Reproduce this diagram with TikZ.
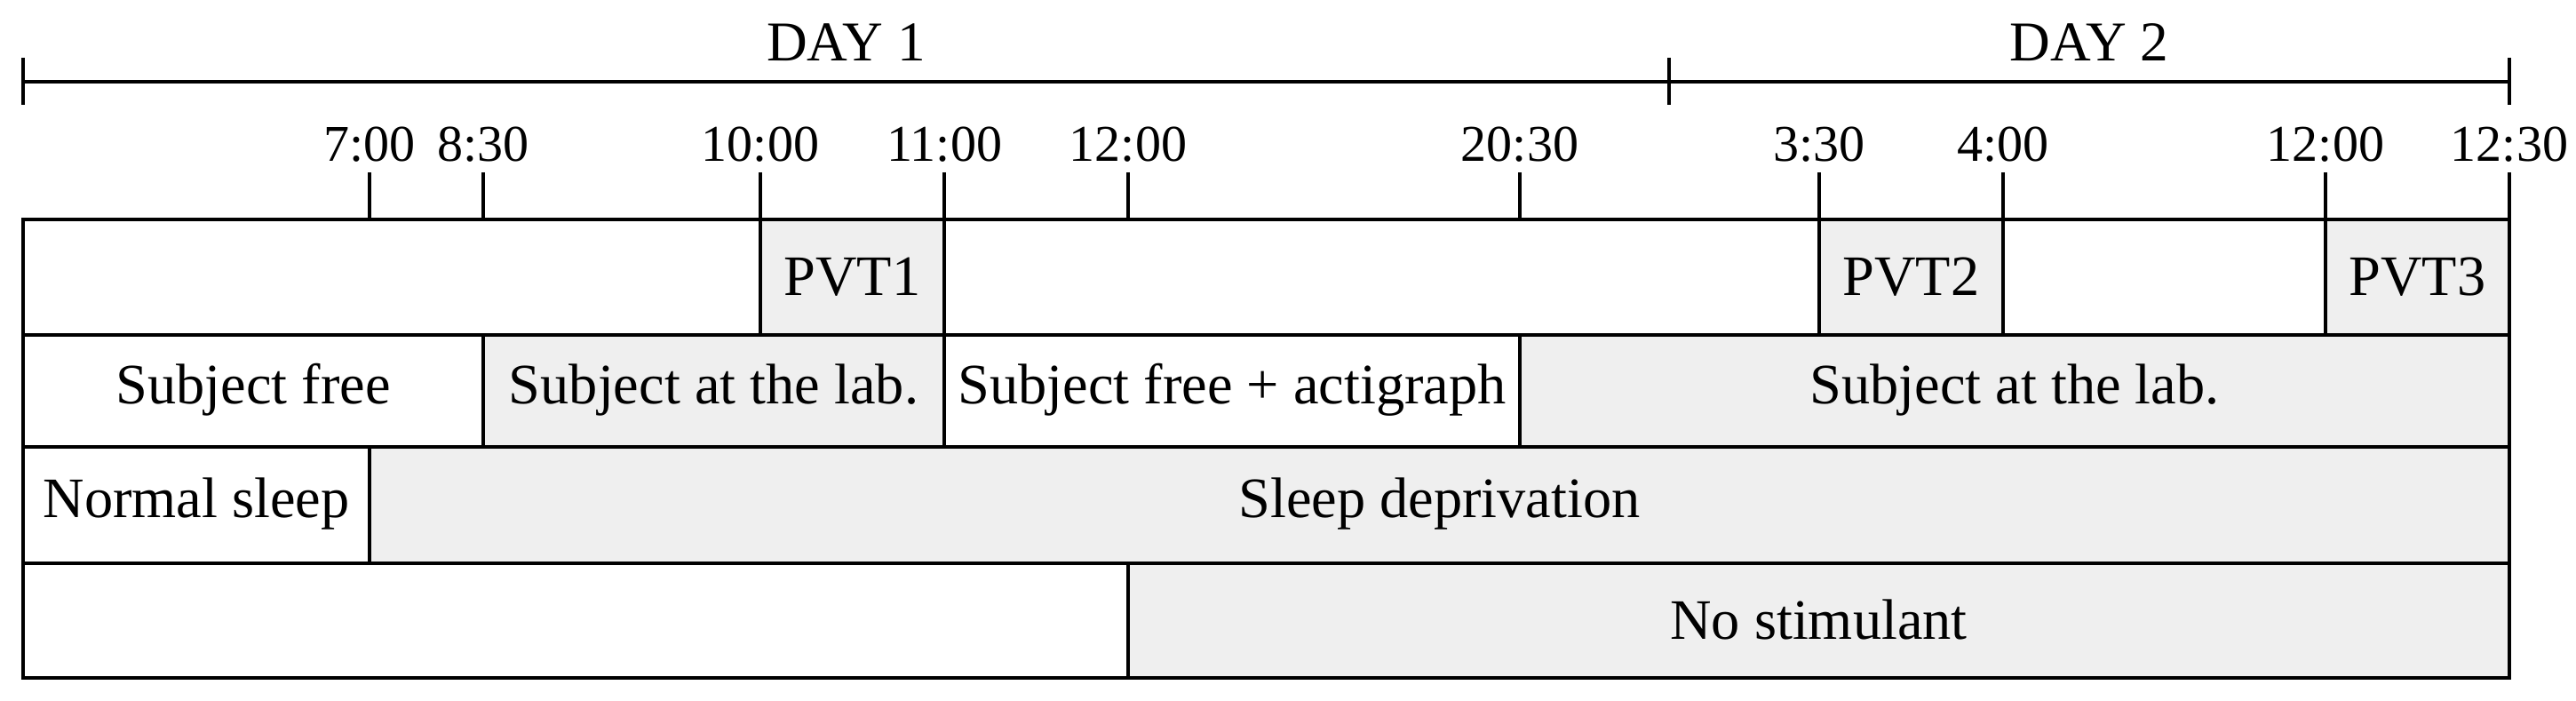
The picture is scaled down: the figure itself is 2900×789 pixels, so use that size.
\documentclass[tikz,border=0pt]{standalone}
\usepackage{fontspec}
\setmainfont{Liberation Serif}
\definecolor{cellgray}{HTML}{EFEFEF}
\begin{document}
\begin{tikzpicture}[x=0.01cm,y=-0.01cm,
  wbox/.style={draw=black,line width=1.2pt,fill=white},
  gbox/.style={draw=black,line width=1.2pt,fill=cellgray},
  tickline/.style={line width=1pt},
  dayline/.style={line width=1.2pt},
  daytxt/.style={font=\fontsize{18}{22}\selectfont,anchor=base,inner sep=0pt},
  timetxt/.style={font=\fontsize{16.5}{19}\selectfont,anchor=base,inner sep=0pt},
  celltxt/.style={font=\fontsize{18.3}{22}\selectfont,anchor=base,inner sep=0pt}]
\useasboundingbox (0,0) rectangle (2900,789);

% day bracket
\coordinate (d0) at (26,91.7);
\coordinate (d1) at (1879,91.7);
\coordinate (d2) at (2825,91.7);
\draw[dayline] (d0) -- (d2);
\draw[dayline] (26,65) -- (26,118);
\draw[dayline] (1879,65) -- (1879,118);
\draw[dayline] (2825,65) -- (2825,118);
\node[daytxt] (day1) at (952.5,69) {DAY 1};
\node[daytxt] (day2) at (2352,69) {DAY 2};

% row 1
\draw[wbox] (26,247) rectangle (856,377);
\draw[gbox] (856,247) rectangle (1063,377);
\draw[wbox] (1063,247) rectangle (2048,377);
\draw[gbox] (2048,247) rectangle (2255,377);
\draw[wbox] (2255,247) rectangle (2618,377);
\draw[gbox] (2618,247) rectangle (2825,377);
\node[celltxt] (pvt1) at (959.5,333) {PVT1};
\node[celltxt] (pvt2) at (2151.5,333) {PVT2};
\node[celltxt] (pvt3) at (2721.5,333) {PVT3};

% row 2
\draw[wbox] (26,377) rectangle (544,503);
\draw[gbox] (544,377) rectangle (1063,503);
\draw[wbox] (1063,377) rectangle (1711,503);
\draw[gbox] (1711,377) rectangle (2825,503);
\node[celltxt] (sf) at (285,455) {Subject free};
\node[celltxt] (sl1) at (803.5,455) {Subject at the lab.};
\node[celltxt] (sfa) at (1387,455) {Subject free + actigraph};
\node[celltxt] (sl2) at (2268,455) {Subject at the lab.};

% row 3
\draw[wbox] (26,503) rectangle (416,634);
\draw[gbox] (416,503) rectangle (2825,634);
\node[celltxt] (ns) at (221,583) {Normal sleep};
\node[celltxt] (sd) at (1620.5,583) {Sleep deprivation};

% row 4
\draw[wbox] (26,634) rectangle (1270,763);
\draw[gbox] (1270,634) rectangle (2825,763);
\node[celltxt] (nst) at (2047.5,720) {No stimulant};

% ticks and time labels
\foreach \x/\t/\n in {416/7:00/a,544/8:30/b,856/10:00/c,1063/11:00/d,1270/12:00/e,1711/20:30/f,2048/3:30/g,2255/4:00/h,2618/12:00/i,2825/12:30/j}{
  \coordinate (tk\n) at (\x,194);
  \coordinate (tb\n) at (\x,247);
  \draw[tickline] (tk\n) -- (tb\n);
  \node[timetxt] (lab\n) at (\x,182) {\t};
}
\end{tikzpicture}
\end{document}
